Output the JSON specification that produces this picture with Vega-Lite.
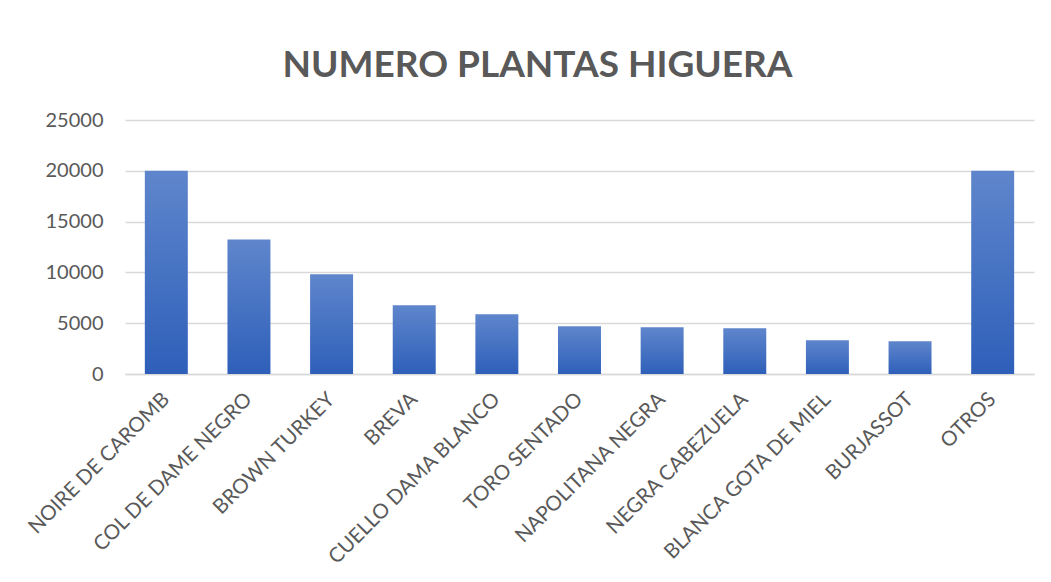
{
  "$schema": "https://vega.github.io/schema/vega-lite/v6.json",
  "width": 909,
  "height": 254,
  "autosize": {"type": "none"},
  "padding": {"left": 125, "top": 120, "right": 17, "bottom": 208},
  "background": "white",
  "title": {
    "text": "NUMERO PLANTAS HIGUERA",
    "font": "Lato",
    "fontSize": 37,
    "fontWeight": "bold",
    "color": "#595959",
    "anchor": "middle",
    "baseline": "alphabetic",
    "offset": 44,
    "dx": -42,
    "dy": 48
  },
  "data": {
    "values": [
      {"variedad": "NOIRE DE CAROMB", "plantas": 20000},
      {"variedad": "COL DE DAME NEGRO", "plantas": 13250},
      {"variedad": "BROWN TURKEY", "plantas": 9820},
      {"variedad": "BREVA", "plantas": 6760},
      {"variedad": "CUELLO DAMA BLANCO", "plantas": 5870},
      {"variedad": "TORO SENTADO", "plantas": 4690},
      {"variedad": "NAPOLITANA NEGRA", "plantas": 4600},
      {"variedad": "NEGRA CABEZUELA", "plantas": 4500},
      {"variedad": "BLANCA GOTA DE MIEL", "plantas": 3320},
      {"variedad": "BURJASSOT", "plantas": 3220},
      {"variedad": "OTROS", "plantas": 20000}
    ]
  },
  "mark": {
    "type": "bar",
    "color": {
      "gradient": "linear",
      "x1": 0, "y1": 0, "x2": 0, "y2": 1,
      "stops": [
        {"offset": 0, "color": "#5f86cc"},
        {"offset": 1, "color": "#2e5fb9"}
      ]
    }
  },
  "encoding": {
    "x": {
      "field": "variedad",
      "type": "nominal",
      "sort": null,
      "title": null,
      "scale": {"paddingInner": 0.48, "paddingOuter": 0.24},
      "axis": {
        "labelAngle": -45,
        "labelAlign": "right",
        "labelBaseline": "middle",
        "labelPadding": 22,
        "labelFont": "Lato",
        "labelFontSize": 20.5,
        "labelColor": "#595959",
        "ticks": false,
        "domainColor": "#d9d9d9",
        "domainWidth": 1.5,
        "labelOverlap": false,
        "labelLimit": 400
      }
    },
    "y": {
      "field": "plantas",
      "type": "quantitative",
      "title": null,
      "scale": {"domain": [0, 25000]},
      "axis": {
        "values": [0, 5000, 10000, 15000, 20000, 25000],
        "format": "d",
        "domain": false,
        "ticks": false,
        "labelPadding": 22,
        "labelFont": "Lato",
        "labelFontSize": 20,
        "labelColor": "#595959",
        "gridColor": "#d9d9d9",
        "gridWidth": 1.3
      }
    }
  },
  "config": {
    "view": {"stroke": null}
  }
}
